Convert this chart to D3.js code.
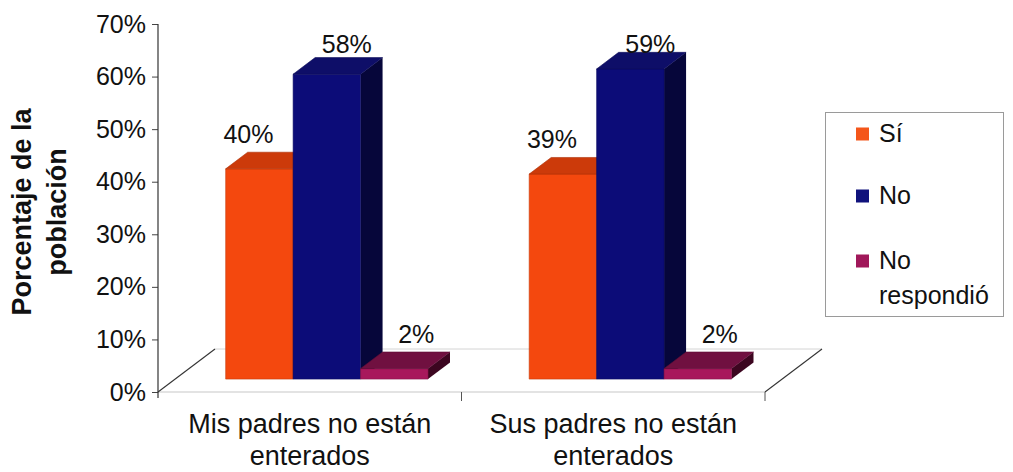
<!DOCTYPE html>
<html>
<head>
<meta charset="utf-8">
<script src="https://cdn.jsdelivr.net/npm/d3@7"></script>
<style>
  body { margin: 0; background: #fff; }
  text { font-family: "Liberation Sans", Arial, sans-serif; fill: #111; }
</style>
</head>
<body>
<svg id="chart" width="1013" height="472"></svg>
<script>
// ---- data ----
const categories = ["Mis padres no están enterados", "Sus padres no están enterados"];
const categoryLines = [["Mis padres no están", "enterados"], ["Sus padres no están", "enterados"]];
const series = ["Sí", "No", "No respondió"];
const siValues = [0.40, 0.39];
const noValues = [0.58, 0.59];
const noRespondioValues = [0.02, 0.02];
const yTicks = [0, 0.1, 0.2, 0.3, 0.4, 0.5, 0.6, 0.7];
const yTitleLines = ["Porcentaje de la", "población"];

const seriesValues = [siValues, noValues, noRespondioValues];

// ---- styles ----
const frontColors = ["#f4480e", "#0c0c78", "#a8185c"];
const topColors   = ["#cc3a0a", "#0e0e68", "#701040"];
const sideColors  = ["#8a2606", "#06063a", "#3c0620"];
const legendColors = ["#f4561a", "#10127c", "#a0185a"];
const labelShift = [-11, 20, 22];

const svg = d3.select("#chart");

// ---- scales ----
const y = d3.scaleLinear().domain([0, 0.7]).range([392, 24]);
const x0 = d3.scaleBand().domain(categories).range([158, 765]);
const x1 = d3.scaleBand().domain(series).range([0, x0.bandwidth()])
  .paddingInner(0).paddingOuter(0.75);

// oblique depth of the floor (full depth), bars occupy a slab inside it
const depthX = 57, depthY = -43;
const barFront = 0.3, barBack = 0.686;
const proj = (px, v, d) => [px + d * depthX, y(v) + d * depthY];
const pts = arr => arr.map(p => p.join(",")).join(" ");

// ---- floor ----
const floor = svg.append("g");
const fl = x0.range()[0], fr = x0.range()[1];
floor.append("polygon")
  .attr("points", pts([proj(fl, 0, 0), proj(fr, 0, 0), proj(fr, 0, 1), proj(fl, 0, 1)]))
  .attr("fill", "#fff");
floor.append("line")
  .attr("x1", fl).attr("y1", y(0)).attr("x2", fr).attr("y2", y(0))
  .attr("stroke", "#c8c8c8").attr("stroke-width", 1.2);
floor.append("line")
  .attr("x1", proj(fl, 0, 1)[0]).attr("y1", proj(fl, 0, 1)[1])
  .attr("x2", proj(fr, 0, 1)[0]).attr("y2", proj(fr, 0, 1)[1])
  .attr("stroke", "#d4d4d4").attr("stroke-width", 1);
[fl, fr].forEach(px => {
  floor.append("line")
    .attr("x1", proj(px, 0, 0)[0]).attr("y1", proj(px, 0, 0)[1])
    .attr("x2", proj(px, 0, 1)[0]).attr("y2", proj(px, 0, 1)[1])
    .attr("stroke", "#333").attr("stroke-width", 1.1);
});

// category tick marks below the floor edge
categories.forEach(c => {
  const px = x0(c) + x0.bandwidth();
  floor.append("line")
    .attr("x1", px).attr("y1", y(0)).attr("x2", px).attr("y2", y(0) + 9)
    .attr("stroke", "#555").attr("stroke-width", 1);
});

// ---- y axis ----
const yAxis = svg.append("g")
  .attr("transform", `translate(${fl},0)`)
  .call(d3.axisLeft(y).tickValues(yTicks).tickFormat(d3.format(".0%"))
    .tickSize(6).tickSizeOuter(0).tickPadding(6));
yAxis.select(".domain").remove();
yAxis.selectAll(".tick line").attr("stroke", "#444");
yAxis.selectAll(".tick text")
  .style("font-family", "'Liberation Sans', Arial, sans-serif")
  .style("font-size", "25px").attr("fill", "#111");
yAxis.append("line")
  .attr("x1", 0).attr("x2", 0).attr("y1", y(0.7)).attr("y2", y(0) + 6)
  .attr("stroke", "#333").attr("stroke-width", 1.2);

// ---- bars ----
const bars = svg.append("g");
categories.forEach((c, i) => {
  series.forEach((s, j) => {
    const v = seriesValues[j][i];
    const xL = x0(c) + x1(s);
    const xR = xL + x1.bandwidth();
    const g = bars.append("g");
    // right side face
    g.append("polygon")
      .attr("points", pts([proj(xR, 0, barFront), proj(xR, v, barFront), proj(xR, v, barBack), proj(xR, 0, barBack)]))
      .attr("fill", sideColors[j]);
    // front face
    g.append("polygon")
      .attr("points", pts([proj(xL, 0, barFront), proj(xR, 0, barFront), proj(xR, v, barFront), proj(xL, v, barFront)]))
      .attr("fill", frontColors[j])
      .attr("stroke", d3.color(frontColors[j]).darker(0.6)).attr("stroke-width", 0.6);
    // top face
    g.append("polygon")
      .attr("points", pts([proj(xL, v, barFront), proj(xR, v, barFront), proj(xR, v, barBack), proj(xL, v, barBack)]))
      .attr("fill", topColors[j])
      .attr("stroke", d3.color(topColors[j]).darker(0.5)).attr("stroke-width", 0.6);
  });
});

// value labels
const labels = svg.append("g");
categories.forEach((c, i) => {
  series.forEach((s, j) => {
    const v = seriesValues[j][i];
    const xL = x0(c) + x1(s);
    const top = proj(xL, v, barFront);
    labels.append("text")
      .attr("x", top[0] + x1.bandwidth() / 2 + labelShift[j])
      .attr("y", Math.max(53, top[1] - 26))
      .attr("text-anchor", "middle")
      .style("font-size", "25px")
      .text(d3.format(".0%")(v));
  });
});

// ---- category labels ----
const catG = svg.append("g");
categories.forEach((c, i) => {
  const cx = x0(c) + x0.bandwidth() / 2;
  categoryLines[i].forEach((line, k) => {
    catG.append("text")
      .attr("x", cx).attr("y", 433 + k * 32)
      .attr("text-anchor", "middle")
      .style("font-size", "27px")
      .text(line);
  });
});

// ---- y axis title ----
const titleG = svg.append("g");
yTitleLines.forEach((line, k) => {
  titleG.append("text")
    .attr("transform", `translate(${31 + k * 35},212) rotate(-90)`)
    .attr("text-anchor", "middle")
    .style("font-size", "27px").style("font-weight", "bold")
    .text(line);
});

// ---- legend ----
const legend = svg.append("g");
legend.append("rect")
  .attr("x", 825.5).attr("y", 112.5).attr("width", 178).attr("height", 204)
  .attr("fill", "none").attr("stroke", "#9a9a9a").attr("stroke-width", 1);
const legendRows = [134, 196, 261];
series.forEach((s, j) => {
  legend.append("rect")
    .attr("x", 856).attr("y", legendRows[j] - 6.5).attr("width", 13).attr("height", 13)
    .attr("fill", legendColors[j]);
  const words = s === "No respondió" ? ["No", "respondió"] : [s];
  words.forEach((w, k) => {
    legend.append("text")
      .attr("x", 879).attr("y", legendRows[j] + 8 + k * 35)
      .style("font-size", "25px")
      .text(w);
  });
});
</script>
</body>
</html>
